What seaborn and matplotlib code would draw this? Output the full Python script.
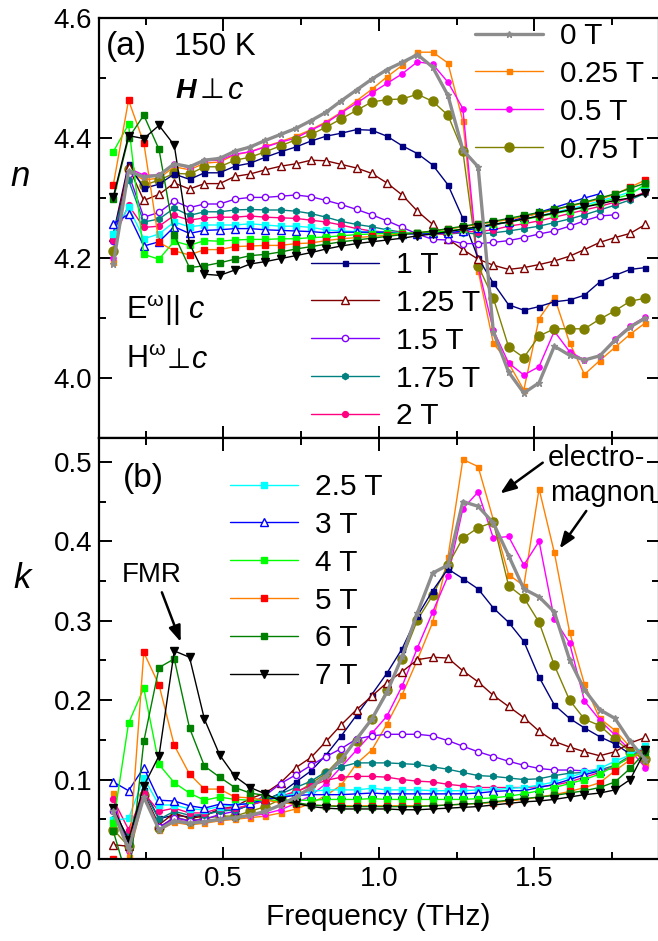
import numpy as np
import pandas as pd
import matplotlib
matplotlib.use("Agg")
import matplotlib.pyplot as plt
import seaborn as sns
from matplotlib.lines import Line2D
from matplotlib.ticker import MultipleLocator

sns.set_theme(style="ticks")
plt.rcParams['font.family'] = ['Liberation Sans', 'DejaVu Sans']
plt.rcParams['mathtext.fontset'] = 'custom'
plt.rcParams['mathtext.rm'] = 'Liberation Sans'
plt.rcParams['mathtext.it'] = 'Liberation Sans:italic'
plt.rcParams['mathtext.bf'] = 'Liberation Sans:bold'
for key in ('text.color', 'axes.labelcolor', 'xtick.color', 'ytick.color',
            'axes.edgecolor', 'xtick.labelcolor', 'ytick.labelcolor'):
    plt.rcParams[key] = 'black'

# ---------------- data ----------------
freq = [0.146, 0.195, 0.244, 0.293, 0.342, 0.391, 0.439, 0.488, 0.537, 0.586,
        0.635, 0.684, 0.733, 0.782, 0.830, 0.879, 0.928, 0.977, 1.026, 1.075,
        1.124, 1.173, 1.222, 1.270, 1.319, 1.368, 1.417, 1.466, 1.515, 1.564,
        1.613, 1.661, 1.710, 1.759, 1.808, 1.857]

fields = ["0 T", "0.25 T", "0.5 T", "0.75 T", "1 T", "1.25 T", "1.5 T", "1.75 T",
          "2 T", "2.5 T", "3 T", "4 T", "5 T", "6 T", "7 T"]

n_0T = [4.190, 4.345, 4.335, 4.338, 4.357, 4.352, 4.363, 4.366, 4.378, 4.385, 4.396, 4.406,
        4.416, 4.429, 4.443, 4.462, 4.480, 4.498, 4.514, 4.526, 4.539, 4.518, 4.471, 4.380,
        4.352, 4.077, 4.010, 3.975, 3.992, 4.053, 4.038, 4.030, 4.037, 4.063, 4.085, 4.100]
n_025T = [4.194, 4.345, 4.330, 4.333, 4.352, 4.347, 4.358, 4.360, 4.372, 4.377, 4.386, 4.394,
          4.403, 4.414, 4.427, 4.443, 4.462, 4.481, 4.502, 4.521, 4.543, 4.543, 4.525, 4.428,
          4.179, 4.058, 4.025, 3.980, 4.099, 4.135, 4.059, 4.006, 4.029, 4.051, 4.073, 4.092]
n_05T = [4.200, 4.350, 4.338, 4.338, 4.357, 4.350, 4.362, 4.363, 4.373, 4.377, 4.385, 4.393,
         4.400, 4.413, 4.425, 4.442, 4.458, 4.475, 4.491, 4.507, 4.527, 4.523, 4.493, 4.449,
         4.185, 4.080, 4.025, 4.005, 4.019, 4.078, 4.044, 4.030, 4.037, 4.065, 4.087, 4.102]
n_075T = [4.212, 4.349, 4.321, 4.330, 4.341, 4.340, 4.352, 4.352, 4.363, 4.368, 4.377, 4.387,
          4.397, 4.406, 4.418, 4.432, 4.446, 4.460, 4.464, 4.465, 4.473, 4.461, 4.438, 4.378,
          4.187, 4.133, 4.052, 4.034, 4.070, 4.082, 4.082, 4.082, 4.098, 4.112, 4.128, 4.133]
n_1T = [4.240, 4.357, 4.316, 4.323, 4.340, 4.331, 4.342, 4.342, 4.353, 4.358, 4.368, 4.377,
        4.385, 4.395, 4.403, 4.408, 4.414, 4.413, 4.403, 4.387, 4.374, 4.355, 4.322, 4.266,
        4.200, 4.158, 4.122, 4.113, 4.119, 4.127, 4.130, 4.138, 4.160, 4.171, 4.181, 4.184]
n_125T = [4.235, 4.352, 4.296, 4.306, 4.325, 4.315, 4.324, 4.324, 4.336, 4.340, 4.347, 4.353,
          4.357, 4.363, 4.362, 4.356, 4.350, 4.341, 4.325, 4.305, 4.278, 4.256, 4.232, 4.214,
          4.198, 4.188, 4.181, 4.184, 4.189, 4.195, 4.203, 4.214, 4.226, 4.234, 4.241, 4.256]
n_15T = [4.228, 4.340, 4.268, 4.276, 4.295, 4.284, 4.290, 4.290, 4.298, 4.301, 4.301, 4.303,
         4.305, 4.302, 4.296, 4.289, 4.281, 4.272, 4.262, 4.251, 4.240, 4.231, 4.230, 4.224,
         4.224, 4.226, 4.229, 4.234, 4.240, 4.245, 4.253, 4.262, 4.270, 4.272]
n_175T = [4.240, 4.330, 4.260, 4.265, 4.283, 4.271, 4.277, 4.277, 4.280, 4.281, 4.280, 4.280,
          4.278, 4.274, 4.268, 4.261, 4.256, 4.252, 4.247, 4.243, 4.240, 4.240, 4.240, 4.242,
          4.240, 4.242, 4.245, 4.249, 4.253, 4.259, 4.265, 4.272, 4.280, 4.288, 4.297, 4.308]
n_2T = [4.230, 4.288, 4.251, 4.253, 4.271, 4.263, 4.267, 4.268, 4.268, 4.270, 4.268, 4.267,
        4.266, 4.263, 4.260, 4.255, 4.249, 4.245, 4.243, 4.243, 4.240, 4.240, 4.240, 4.244,
        4.244, 4.247, 4.253, 4.257, 4.262, 4.268, 4.274, 4.280, 4.286, 4.293, 4.300, 4.310]
n_25T = [4.240, 4.285, 4.232, 4.240, 4.260, 4.252, 4.255, 4.255, 4.255, 4.257, 4.255, 4.253,
         4.253, 4.251, 4.247, 4.245, 4.244, 4.243, 4.243, 4.242, 4.242, 4.243, 4.245, 4.248,
         4.252, 4.256, 4.260, 4.265, 4.270, 4.276, 4.282, 4.288, 4.295, 4.302, 4.310, 4.318]
n_3T = [4.257, 4.273, 4.220, 4.227, 4.252, 4.241, 4.246, 4.247, 4.249, 4.249, 4.247, 4.246,
        4.245, 4.244, 4.242, 4.243, 4.243, 4.243, 4.243, 4.240, 4.240, 4.241, 4.242, 4.245,
        4.250, 4.255, 4.260, 4.268, 4.276, 4.284, 4.292, 4.300, 4.307]
n_4T = [4.377, 4.423, 4.206, 4.198, 4.228, 4.221, 4.229, 4.228, 4.230, 4.231, 4.231, 4.232,
        4.232, 4.234, 4.235, 4.237, 4.239, 4.240, 4.241, 4.241, 4.242, 4.243, 4.245, 4.248,
        4.252, 4.256, 4.260, 4.264, 4.269, 4.274, 4.279, 4.285, 4.292, 4.299, 4.306, 4.323]
n_5T = [4.322, 4.463, 4.392, 4.226, 4.212, 4.205, 4.214, 4.214, 4.219, 4.220, 4.221, 4.221,
        4.224, 4.225, 4.229, 4.232, 4.234, 4.236, 4.238, 4.240, 4.242, 4.245, 4.248, 4.252,
        4.256, 4.260, 4.264, 4.269, 4.274, 4.280, 4.286, 4.292, 4.298, 4.306, 4.318, 4.330]
n_6T = [4.298, 4.400, 4.438, 4.381, 4.238, 4.184, 4.187, 4.192, 4.198, 4.204, 4.206, 4.210,
        4.215, 4.219, 4.223, 4.227, 4.230, 4.233, 4.236, 4.239, 4.242, 4.245, 4.249, 4.253,
        4.257, 4.261, 4.266, 4.271, 4.276, 4.281, 4.287, 4.293, 4.300, 4.307, 4.316, 4.325]
n_7T = [4.302, 4.404, 4.399, 4.421, 4.388, 4.224, 4.173, 4.171, 4.180, 4.190, 4.194, 4.199,
        4.204, 4.209, 4.215, 4.220, 4.224, 4.227, 4.230, 4.233, 4.237, 4.240, 4.244, 4.248,
        4.252, 4.256, 4.260, 4.265, 4.270, 4.275, 4.280, 4.285, 4.290, 4.296, 4.300, 4.308]

k_0T = [0.060, 0.012, 0.078, 0.037, 0.048, 0.045, 0.047, 0.050, 0.052, 0.055, 0.060, 0.068,
        0.078, 0.090, 0.105, 0.125, 0.151, 0.176, 0.210, 0.255, 0.310, 0.360, 0.370, 0.450,
        0.444, 0.423, 0.382, 0.340, 0.330, 0.311, 0.251, 0.213, 0.188, 0.177, 0.148, 0.125]
k_025T = [0.083, 0.002, 0.078, 0.036, 0.046, 0.043, 0.045, 0.048, 0.050, 0.052, 0.054, 0.058,
          0.063, 0.070, 0.080, 0.093, 0.120, 0.137, 0.170, 0.207, 0.251, 0.298, 0.380, 0.503,
          0.494, 0.427, 0.358, 0.344, 0.466, 0.386, 0.286, 0.220, 0.177, 0.162, 0.141, 0.120]
k_05T = [0.076, 0.010, 0.080, 0.040, 0.050, 0.046, 0.048, 0.050, 0.052, 0.054, 0.057, 0.062,
         0.070, 0.080, 0.095, 0.116, 0.137, 0.158, 0.180, 0.218, 0.266, 0.311, 0.356, 0.441,
         0.462, 0.404, 0.406, 0.370, 0.400, 0.302, 0.272, 0.199, 0.175, 0.156, 0.137, 0.115]
k_075T = [0.037, 0.016, 0.081, 0.039, 0.053, 0.048, 0.051, 0.054, 0.054, 0.060, 0.066, 0.075,
          0.083, 0.095, 0.108, 0.128, 0.149, 0.176, 0.213, 0.252, 0.301, 0.332, 0.370, 0.404,
          0.417, 0.424, 0.344, 0.329, 0.298, 0.244, 0.200, 0.176, 0.168, 0.151, 0.135, 0.126]
k_1T = [0.063, 0.024, 0.087, 0.051, 0.055, 0.053, 0.055, 0.062, 0.061, 0.068, 0.074, 0.083,
        0.097, 0.111, 0.131, 0.155, 0.181, 0.207, 0.234, 0.265, 0.306, 0.338, 0.365, 0.353,
        0.340, 0.316, 0.298, 0.274, 0.229, 0.194, 0.177, 0.165, 0.154, 0.145, 0.132, 0.139]
k_125T = [0.018, 0.016, 0.083, 0.043, 0.058, 0.051, 0.054, 0.063, 0.066, 0.076, 0.083, 0.096,
          0.115, 0.128, 0.148, 0.169, 0.188, 0.205, 0.222, 0.236, 0.251, 0.254, 0.253, 0.237,
          0.223, 0.206, 0.192, 0.178, 0.161, 0.148, 0.141, 0.135, 0.130, 0.135, 0.146, 0.153]
k_15T = [0.060, 0.020, 0.080, 0.040, 0.052, 0.048, 0.050, 0.056, 0.060, 0.070, 0.080, 0.095,
         0.106, 0.118, 0.129, 0.139, 0.151, 0.155, 0.157, 0.157, 0.157, 0.155, 0.149, 0.142,
         0.135, 0.129, 0.123, 0.118, 0.114, 0.112, 0.112, 0.111, 0.112, 0.114]
k_175T = [0.050, 0.030, 0.085, 0.050, 0.060, 0.055, 0.056, 0.060, 0.062, 0.068, 0.075, 0.082,
          0.090, 0.098, 0.110, 0.116, 0.121, 0.121, 0.121, 0.120, 0.119, 0.116, 0.113, 0.109,
          0.105, 0.104, 0.102, 0.100, 0.101, 0.105, 0.108, 0.109, 0.112, 0.118, 0.130, 0.135]
k_2T = [0.075, 0.037, 0.083, 0.060, 0.064, 0.058, 0.058, 0.064, 0.064, 0.068, 0.073, 0.079,
        0.085, 0.092, 0.099, 0.103, 0.104, 0.104, 0.103, 0.100, 0.098, 0.097, 0.094, 0.092,
        0.090, 0.090, 0.090, 0.090, 0.091, 0.093, 0.097, 0.103, 0.109, 0.117, 0.128, 0.141]
k_25T = [0.049, 0.051, 0.102, 0.068, 0.068, 0.063, 0.062, 0.066, 0.068, 0.070, 0.075, 0.079,
         0.082, 0.085, 0.087, 0.087, 0.087, 0.089, 0.087, 0.087, 0.087, 0.086, 0.086, 0.086,
         0.087, 0.087, 0.089, 0.090, 0.093, 0.097, 0.103, 0.109, 0.114, 0.123, 0.131, 0.142]
k_3T = [0.097, 0.086, 0.115, 0.074, 0.073, 0.067, 0.064, 0.069, 0.068, 0.070, 0.075, 0.078,
        0.080, 0.081, 0.081, 0.081, 0.082, 0.083, 0.082, 0.082, 0.082, 0.082, 0.082, 0.082,
        0.083, 0.085, 0.086, 0.086, 0.090, 0.094, 0.100, 0.106, 0.111]
k_4T = [0.045, 0.171, 0.215, 0.119, 0.096, 0.083, 0.074, 0.078, 0.075, 0.074, 0.074, 0.074,
        0.074, 0.074, 0.075, 0.075, 0.075, 0.076, 0.075, 0.075, 0.075, 0.075, 0.075, 0.075,
        0.076, 0.077, 0.079, 0.082, 0.086, 0.090, 0.095, 0.100, 0.107, 0.117, 0.128, 0.138]
k_5T = [0.000, -0.005, 0.260, 0.219, 0.143, 0.107, 0.088, 0.088, 0.078, 0.077, 0.074, 0.071,
        0.069, 0.068, 0.067, 0.067, 0.067, 0.067, 0.067, 0.067, 0.067, 0.067, 0.068, 0.069,
        0.070, 0.071, 0.073, 0.075, 0.078, 0.081, 0.085, 0.090, 0.096, 0.111, 0.125, 0.138]
k_6T = [0.035, -0.030, 0.148, 0.241, 0.252, 0.165, 0.117, 0.103, 0.090, 0.083, 0.080, 0.075,
        0.071, 0.068, 0.067, 0.066, 0.066, 0.066, 0.066, 0.066, 0.066, 0.067, 0.068, 0.069,
        0.070, 0.072, 0.074, 0.076, 0.078, 0.080, 0.083, 0.086, 0.090, 0.097, 0.114, 0.135]
k_7T = [0.064, 0.024, 0.092, 0.130, 0.262, 0.254, 0.176, 0.131, 0.104, 0.090, 0.082, 0.073,
        0.070, 0.066, 0.064, 0.063, 0.063, 0.063, 0.063, 0.062, 0.062, 0.063, 0.064, 0.065,
        0.066, 0.068, 0.070, 0.072, 0.073, 0.075, 0.078, 0.081, 0.083, 0.087, 0.100, 0.137]

n_data = [n_0T, n_025T, n_05T, n_075T, n_1T, n_125T, n_15T, n_175T, n_2T,
          n_25T, n_3T, n_4T, n_5T, n_6T, n_7T]
k_data = [k_0T, k_025T, k_05T, k_075T, k_1T, k_125T, k_15T, k_175T, k_2T,
          k_25T, k_3T, k_4T, k_5T, k_6T, k_7T]

# ---------------- styles ----------------
# (line color, marker, marker face, marker edge, marker size, line width)
styles = {
    "0 T":    ("#8c8c8c", "*", "#8c8c8c", "#8c8c8c", 4.5, 2.4),
    "0.25 T": ("#ff8000", "s", "#ff8000", "#ff8000", 3.6, 1.0),
    "0.5 T":  ("#ff00ff", "o", "#ff00ff", "#ff00ff", 3.8, 1.0),
    "0.75 T": ("#808000", "o", "#808000", "#808000", 6.5, 1.0),
    "1 T":    ("#000080", "s", "#000080", "#000080", 3.6, 1.0),
    "1.25 T": ("#800000", "^", "white", "#800000", 5.5, 1.0),
    "1.5 T":  ("#8000ff", "o", "white", "#8000ff", 4.5, 1.0),
    "1.75 T": ("#008080", "h", "#008080", "#008080", 4.5, 1.0),
    "2 T":    ("#ff0080", "o", "#ff0080", "#ff0080", 4.2, 1.0),
    "2.5 T":  ("#00ffff", "s", "#00ffff", "#00ffff", 3.8, 1.0),
    "3 T":    ("#0000ff", "^", "white", "#0000ff", 5.5, 1.0),
    "4 T":    ("#00ff00", "s", "#00ff00", "#00ff00", 3.8, 1.0),
    "5 T":    ("#ff8000", "s", "#ff0000", "#ff0000", 3.8, 1.0),
    "6 T":    ("#008000", "s", "#008000", "#008000", 3.8, 1.0),
    "7 T":    ("#000000", "v", "#000000", "#000000", 6.0, 1.0),
}

W, H = 658, 941
fig = plt.figure(figsize=(W / 100, H / 100), dpi=100)
axA = fig.add_axes([99 / W, 1 - 438 / H, 559.8 / W, 420 / H])
axB = fig.add_axes([99 / W, 1 - 859 / H, 559.8 / W, 421 / H])

draw_order = list(range(1, 15)) + [0]
for ax, data in ((axA, n_data), (axB, k_data)):
    for i in draw_order:
        lab = fields[i]
        vals = data[i]
        lc, mk, mfc, mec, ms, lw = styles[lab]
        df = pd.DataFrame({"f": freq[:len(vals)], "v": vals})
        sns.lineplot(data=df, x="f", y="v", ax=ax, color=lc, marker=mk,
                     markerfacecolor=mfc, markeredgecolor=mec, markersize=ms,
                     markeredgewidth=1.0, linewidth=lw, estimator=None,
                     sort=False, legend=False, zorder=2 + (i == 0))

for ax in (axA, axB):
    ax.set_xlim(0.1, 1.9)
    ax.xaxis.set_major_locator(MultipleLocator(0.5))
    ax.xaxis.set_minor_locator(MultipleLocator(0.25))
    ax.tick_params(which="both", direction="in", top=True, right=True,
                   width=1.4, labelsize=20, pad=5, colors="black")
    ax.tick_params(which="major", length=9)
    ax.tick_params(which="minor", length=5)
    for sp in ax.spines.values():
        sp.set_linewidth(1.6)
        sp.set_color("black")
    ax.set_xlabel("")
    ax.set_ylabel("")

axA.set_ylim(3.9, 4.6)
axA.yaxis.set_minor_locator(MultipleLocator(0.1))
axA.set_yticks([4.0, 4.2, 4.4, 4.6])
axA.set_yticklabels(["4.0", "4.2", "4.4", "4.6"])
axA.tick_params(labelbottom=False)

axB.set_ylim(0, 0.53)
axB.set_yticks([0.0, 0.1, 0.2, 0.3, 0.4, 0.5])
axB.set_yticklabels(["0.0", "0.1", "0.2", "0.3", "0.4", "0.5"])
axB.yaxis.set_minor_locator(MultipleLocator(0.05))
axB.set_xticks([0.5, 1.0, 1.5])
axB.set_xticklabels(["0.5", "1.0", "1.5"])


def handle(lab):
    lc, mk, mfc, mec, ms, lw = styles[lab]
    return Line2D([], [], color=lc, marker=mk, markerfacecolor=mfc,
                  markeredgecolor=mec, markersize=ms, markeredgewidth=1.0,
                  linewidth=lw)


def add_legend(labels, px, py):
    fig.legend([handle(l) for l in labels], labels, loc="upper left",
               bbox_to_anchor=(px / W, 1 - py / H), bbox_transform=fig.transFigure,
               frameon=False, borderpad=0, borderaxespad=0, handlelength=2.27,
               handletextpad=0.57, labelspacing=0.33, fontsize=21.5, numpoints=1,
               labelcolor="black")


add_legend(fields[0:4], 475, 22)
add_legend(fields[4:9], 311, 251)
add_legend(fields[9:15], 230, 473)


def ftext(px, py, s, **kw):
    kw.setdefault("ha", "left")
    kw.setdefault("va", "center")
    kw.setdefault("color", "black")
    fig.text(px / W, 1 - py / H, s, **kw)


ftext(106, 47, "(a)", fontsize=24)
ftext(174, 47, "150 K", fontsize=22.5)
ftext(175, 91, "H", fontsize=20.5, fontweight="bold", fontstyle="italic")
ftext(200, 91, "⊥", fontsize=20.5)
ftext(228, 91, "c", fontsize=22, fontstyle="italic")
ftext(126, 310, r"E$^{\mathrm{\omega}}$|| $c$", fontsize=22)
ftext(126, 360, r"H$^{\mathrm{\omega}}$", fontsize=22)
ftext(167, 361, "⊥", fontsize=20)
ftext(192, 360, "c", fontsize=22, fontstyle="italic")
ftext(20, 176, "n", fontsize=25, fontstyle="italic", ha="center")
ftext(22, 578, "k", fontsize=25, fontstyle="italic", ha="center")
ftext(123, 478, "(b)", fontsize=24)
ftext(378, 917, "Frequency (THz)", fontsize=21.5, ha="center")
ftext(152, 575, "FMR", fontsize=20, ha="center")
ftext(548, 458, "electro-", fontsize=21)
ftext(550, 493, "magnon", fontsize=21)

arrow = dict(arrowstyle="-|>,head_length=0.8,head_width=0.3", color="black", lw=1.8)
# arrows in bottom-panel data coordinates
axB.annotate("", xy=(0.366, 0.270), xytext=(0.299, 0.339), arrowprops=arrow)
axB.annotate("", xy=(1.383, 0.458), xytext=(1.534, 0.501), arrowprops=arrow)
axB.annotate("", xy=(1.576, 0.388), xytext=(1.672, 0.441), arrowprops=arrow)

fig.savefig("out.png", dpi=100)
